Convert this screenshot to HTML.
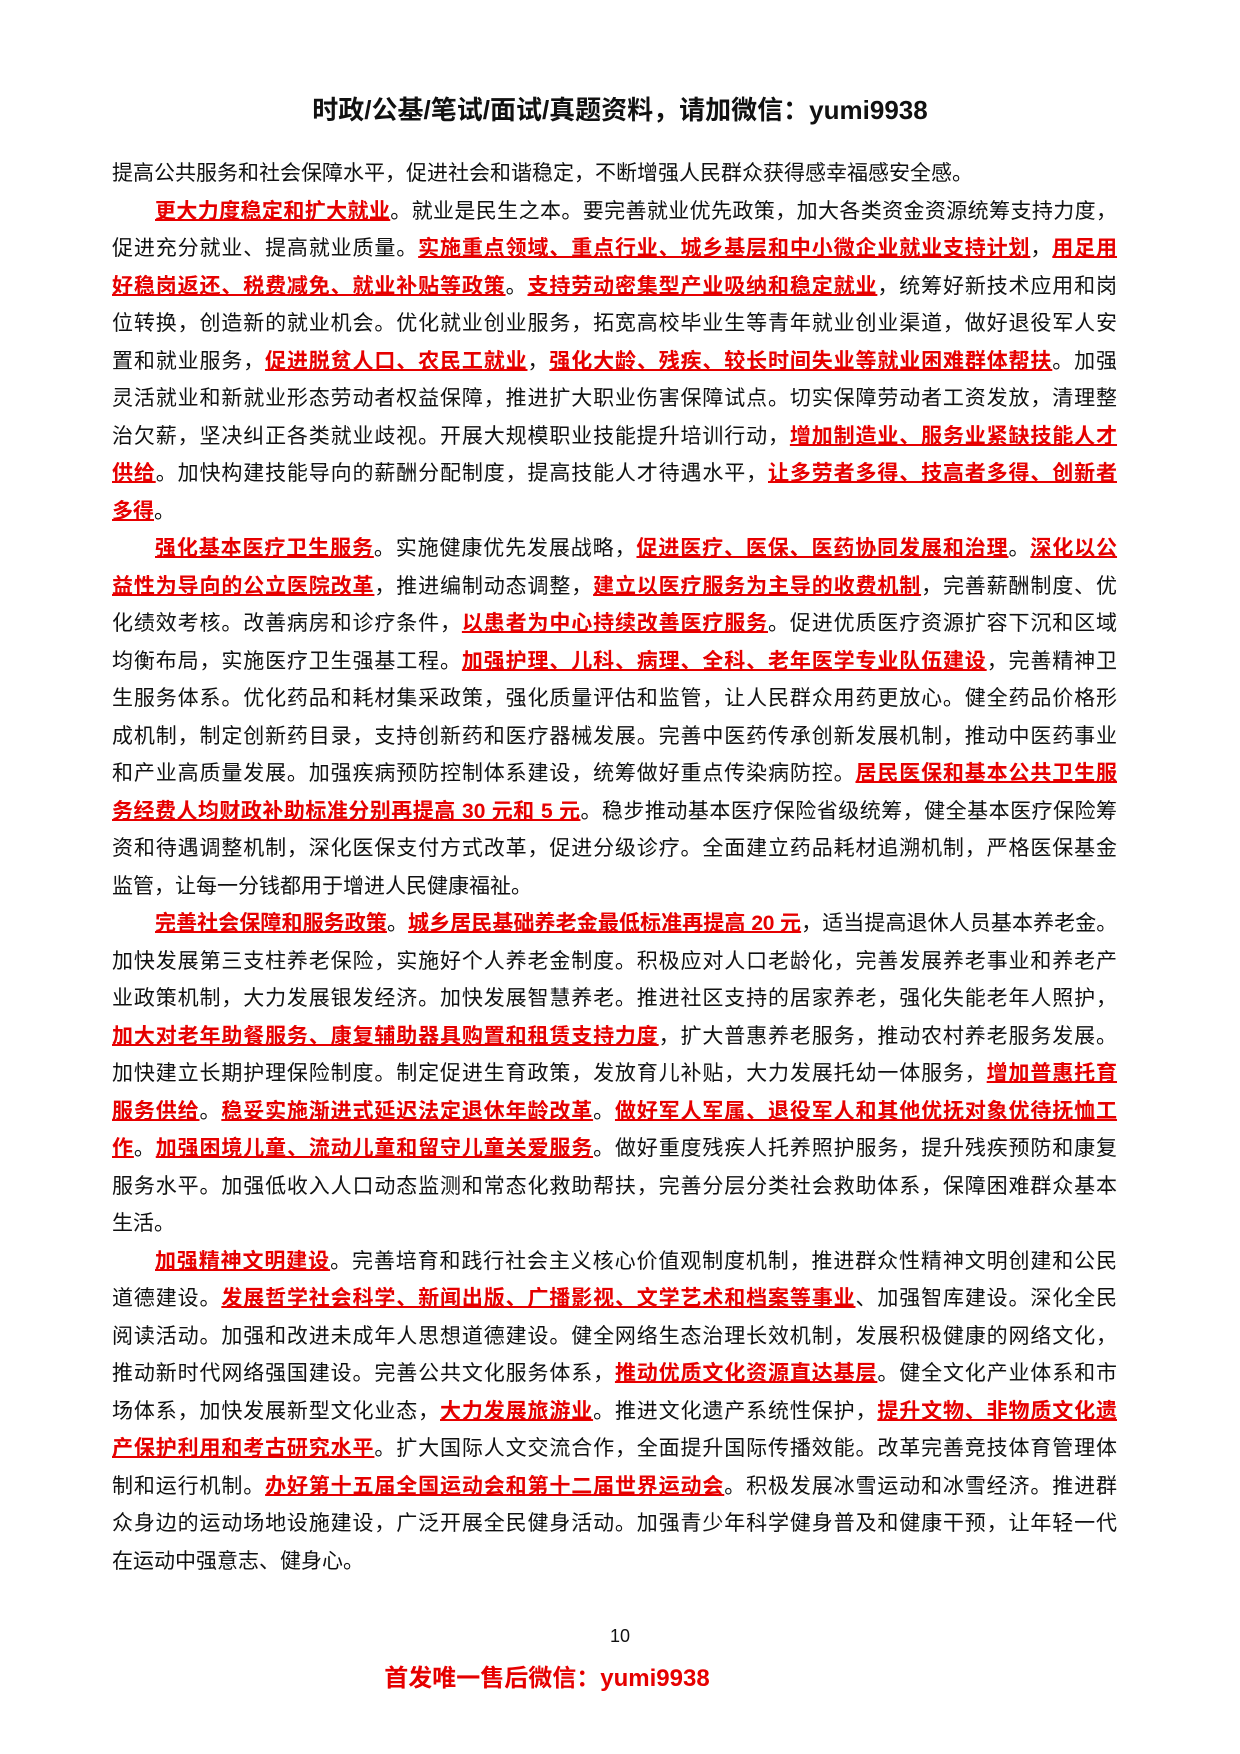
<!DOCTYPE html>
<html><head><meta charset="utf-8"><style>
body{margin:0;width:1240px;height:1754px;background:#fff;position:relative;overflow:hidden;font-family:"Liberation Sans","Noto Sans CJK SC",sans-serif;color:#111}
.h{position:absolute;top:92px;left:0;width:1240px;text-align:center;font-size:26px;font-weight:bold;line-height:36px}
.l{position:absolute;left:112px;width:1005px;height:37.5px;line-height:37.5px;font-size:21px;white-space:nowrap;text-align:justify;text-align-last:justify}
.e{text-align-last:left}
.i{padding-left:43px;width:962px}
b{color:#e60000;text-decoration:underline;text-decoration-thickness:2px;font-weight:bold}
.pn{position:absolute;top:1626px;left:0;width:1240px;text-align:center;font-size:18px}
.ft{position:absolute;top:1658px;left:0;width:1094px;text-align:center;font-size:24px;font-weight:bold;color:#e60000}
</style></head><body>
<div class="h">时政/公基/笔试/面试/真题资料，请加微信：yumi9938</div>
<div class="l e" style="top:155px">提高公共服务和社会保障水平，促进社会和谐稳定，不断增强人民群众获得感幸福感安全感。</div>
<div class="l i" style="top:192.5px"><b>更大力度稳定和扩大就业</b>。就业是民生之本。要完善就业优先政策，加大各类资金资源统筹支持力度，</div>
<div class="l" style="top:230px">促进充分就业、提高就业质量。<b>实施重点领域、重点行业、城乡基层和中小微企业就业支持计划</b>，<b>用足用</b></div>
<div class="l" style="top:267.5px"><b>好稳岗返还、税费减免、就业补贴等政策</b>。<b>支持劳动密集型产业吸纳和稳定就业</b>，统筹好新技术应用和岗</div>
<div class="l" style="top:305px">位转换，创造新的就业机会。优化就业创业服务，拓宽高校毕业生等青年就业创业渠道，做好退役军人安</div>
<div class="l" style="top:342.5px">置和就业服务，<b>促进脱贫人口、农民工就业</b>，<b>强化大龄、残疾、较长时间失业等就业困难群体帮扶</b>。加强</div>
<div class="l" style="top:380px">灵活就业和新就业形态劳动者权益保障，推进扩大职业伤害保障试点。切实保障劳动者工资发放，清理整</div>
<div class="l" style="top:417.5px">治欠薪，坚决纠正各类就业歧视。开展大规模职业技能提升培训行动，<b>增加制造业、服务业紧缺技能人才</b></div>
<div class="l" style="top:455px"><b>供给</b>。加快构建技能导向的薪酬分配制度，提高技能人才待遇水平，<b>让多劳者多得、技高者多得、创新者</b></div>
<div class="l e" style="top:492.5px"><b>多得</b>。</div>
<div class="l i" style="top:530px"><b>强化基本医疗卫生服务</b>。实施健康优先发展战略，<b>促进医疗、医保、医药协同发展和治理</b>。<b>深化以公</b></div>
<div class="l" style="top:567.5px"><b>益性为导向的公立医院改革</b>，推进编制动态调整，<b>建立以医疗服务为主导的收费机制</b>，完善薪酬制度、优</div>
<div class="l" style="top:605px">化绩效考核。改善病房和诊疗条件，<b>以患者为中心持续改善医疗服务</b>。促进优质医疗资源扩容下沉和区域</div>
<div class="l" style="top:642.5px">均衡布局，实施医疗卫生强基工程。<b>加强护理、儿科、病理、全科、老年医学专业队伍建设</b>，完善精神卫</div>
<div class="l" style="top:680px">生服务体系。优化药品和耗材集采政策，强化质量评估和监管，让人民群众用药更放心。健全药品价格形</div>
<div class="l" style="top:717.5px">成机制，制定创新药目录，支持创新药和医疗器械发展。完善中医药传承创新发展机制，推动中医药事业</div>
<div class="l" style="top:755px">和产业高质量发展。加强疾病预防控制体系建设，统筹做好重点传染病防控。<b>居民医保和基本公共卫生服</b></div>
<div class="l" style="top:792.5px"><b>务经费人均财政补助标准分别再提高 30 元和 5 元</b>。稳步推动基本医疗保险省级统筹，健全基本医疗保险筹</div>
<div class="l" style="top:830px">资和待遇调整机制，深化医保支付方式改革，促进分级诊疗。全面建立药品耗材追溯机制，严格医保基金</div>
<div class="l e" style="top:867.5px">监管，让每一分钱都用于增进人民健康福祉。</div>
<div class="l i" style="top:905px;letter-spacing:-0.3px"><b>完善社会保障和服务政策</b>。<b>城乡居民基础养老金最低标准再提高 20 元</b>，适当提高退休人员基本养老金。</div>
<div class="l" style="top:942.5px">加快发展第三支柱养老保险，实施好个人养老金制度。积极应对人口老龄化，完善发展养老事业和养老产</div>
<div class="l" style="top:980px">业政策机制，大力发展银发经济。加快发展智慧养老。推进社区支持的居家养老，强化失能老年人照护，</div>
<div class="l" style="top:1017.5px"><b>加大对老年助餐服务、康复辅助器具购置和租赁支持力度</b>，扩大普惠养老服务，推动农村养老服务发展。</div>
<div class="l" style="top:1055px">加快建立长期护理保险制度。制定促进生育政策，发放育儿补贴，大力发展托幼一体服务，<b>增加普惠托育</b></div>
<div class="l" style="top:1092.5px"><b>服务供给</b>。<b>稳妥实施渐进式延迟法定退休年龄改革</b>。<b>做好军人军属、退役军人和其他优抚对象优待抚恤工</b></div>
<div class="l" style="top:1130px"><b>作</b>。<b>加强困境儿童、流动儿童和留守儿童关爱服务</b>。做好重度残疾人托养照护服务，提升残疾预防和康复</div>
<div class="l" style="top:1167.5px">服务水平。加强低收入人口动态监测和常态化救助帮扶，完善分层分类社会救助体系，保障困难群众基本</div>
<div class="l e" style="top:1205px">生活。</div>
<div class="l i" style="top:1242.5px"><b>加强精神文明建设</b>。完善培育和践行社会主义核心价值观制度机制，推进群众性精神文明创建和公民</div>
<div class="l" style="top:1280px">道德建设。<b>发展哲学社会科学、新闻出版、广播影视、文学艺术和档案等事业</b>、加强智库建设。深化全民</div>
<div class="l" style="top:1317.5px">阅读活动。加强和改进未成年人思想道德建设。健全网络生态治理长效机制，发展积极健康的网络文化，</div>
<div class="l" style="top:1355px">推动新时代网络强国建设。完善公共文化服务体系，<b>推动优质文化资源直达基层</b>。健全文化产业体系和市</div>
<div class="l" style="top:1392.5px">场体系，加快发展新型文化业态，<b>大力发展旅游业</b>。推进文化遗产系统性保护，<b>提升文物、非物质文化遗</b></div>
<div class="l" style="top:1430px"><b>产保护利用和考古研究水平</b>。扩大国际人文交流合作，全面提升国际传播效能。改革完善竞技体育管理体</div>
<div class="l" style="top:1467.5px">制和运行机制。<b>办好第十五届全国运动会和第十二届世界运动会</b>。积极发展冰雪运动和冰雪经济。推进群</div>
<div class="l" style="top:1505px">众身边的运动场地设施建设，广泛开展全民健身活动。加强青少年科学健身普及和健康干预，让年轻一代</div>
<div class="l e" style="top:1542.5px">在运动中强意志、健身心。</div>
<div class="pn">10</div>
<div class="ft">首发唯一售后微信：yumi9938</div>
</body></html>
